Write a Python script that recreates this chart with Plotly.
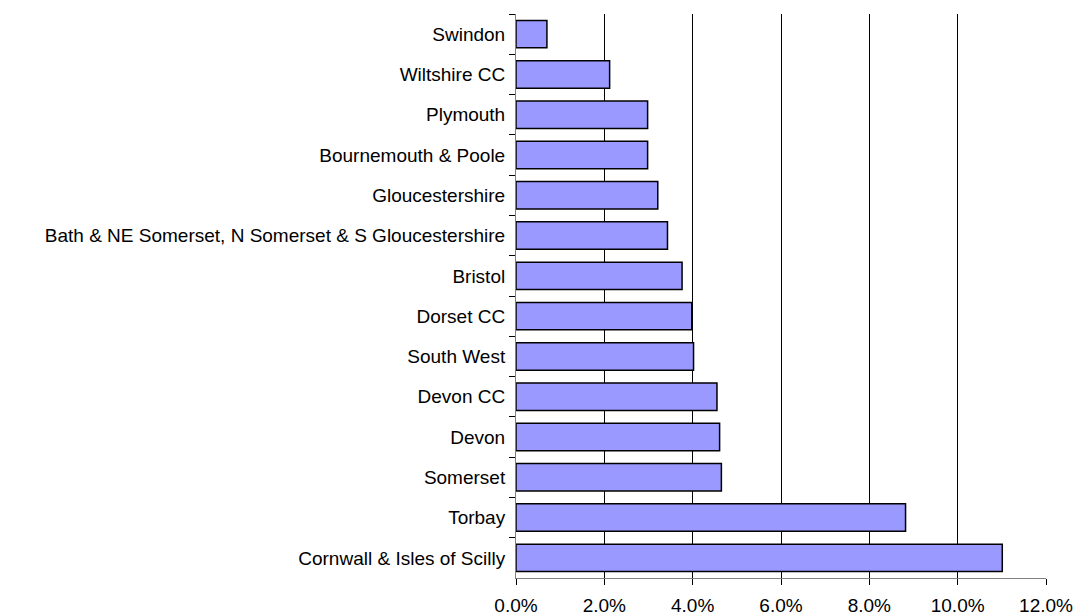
import plotly.graph_objects as go

categories = [
    "Swindon", "Wiltshire CC", "Plymouth", "Bournemouth & Poole", "Gloucestershire",
    "Bath & NE Somerset, N Somerset & S Gloucestershire", "Bristol", "Dorset CC",
    "South West", "Devon CC", "Devon", "Somerset", "Torbay", "Cornwall & Isles of Scilly",
]
values = [0.0070, 0.0212, 0.0298, 0.0298, 0.0321, 0.0343, 0.0376, 0.0398,
          0.0402, 0.0455, 0.0461, 0.0465, 0.0882, 0.1101]
x_ticks = [0, 0.02, 0.04, 0.06, 0.08, 0.10, 0.12]

fig = go.Figure(go.Bar(
    x=values, y=categories, orientation="h",
    marker=dict(color="#9999FF", line=dict(color="#000000", width=1.5)),
    width=0.68,
))

fig.update_layout(
    width=1077, height=615,
    margin=dict(l=516, r=31, t=14, b=37, autoexpand=False),
    paper_bgcolor="white", plot_bgcolor="white",
    font=dict(family="Liberation Sans, Arial, sans-serif", size=19, color="#000000"),
    showlegend=False,
)
fig.update_xaxes(
    range=[0, 0.12], tickvals=x_ticks, tickformat=".1%",
    showgrid=True, gridcolor="#000000", gridwidth=1,
    showline=True, linecolor="#808080", linewidth=1,
    ticks="outside", ticklen=6, tickcolor="#000000",
    zeroline=False, tickfont=dict(size=19), automargin=False,
    ticklabelstandoff=4,
)
fig.update_yaxes(
    autorange="reversed", showgrid=False,
    showline=True, linecolor="#808080", linewidth=1,
    ticks="outside", ticklen=6, tickcolor="#000000", tickson="boundaries",
    tickfont=dict(size=19), ticklabelstandoff=6, automargin=False,
)
fig.write_html(
    "out.html",
    config={"displayModeBar": False},
    post_script="document.body.style.margin='0';document.body.style.overflow='hidden';",
)
